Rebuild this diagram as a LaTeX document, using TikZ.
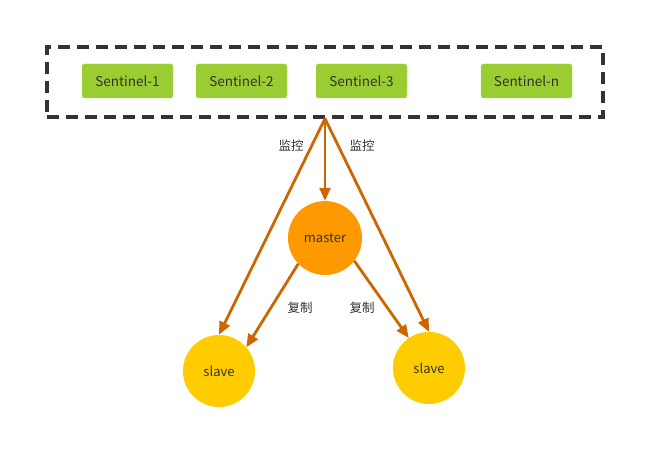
\documentclass[tikz,border=0pt]{standalone}
\usepackage{fontspec}
\setmainfont{Noto Sans CJK SC}
\usetikzlibrary{arrows.meta}
\definecolor{sgreen}{HTML}{9ACD32}
\definecolor{morange}{HTML}{FF9900}
\definecolor{syellow}{HTML}{FFCC00}
\definecolor{arr}{HTML}{CC6600}
\definecolor{txt}{HTML}{333333}
\tikzset{
  sentbox/.style={draw=sgreen!85!white, fill=sgreen, rounded corners=2.5pt, minimum width=91pt, minimum height=34pt, inner sep=0pt, text=txt, font=\fontsize{13.5}{15}\selectfont},
  frame/.style={draw=txt, line width=3.2pt, dash pattern=on 12pt off 7pt, minimum width=556pt, minimum height=70pt, inner sep=0pt},
  masternode/.style={circle, fill=morange, minimum size=74pt, inner sep=0pt, text=txt, font=\fontsize{13}{15}\selectfont},
  slavenode/.style={circle, fill=syellow, minimum size=72pt, inner sep=0pt, text=txt, font=\fontsize{13}{15}\selectfont},
  link/.style={draw=arr, line width=2.8pt, -{Triangle[length=13pt,width=11pt]}},
  lbl/.style={text=txt, font=\fontsize{12.5}{14}\selectfont, inner sep=0pt}
}
\begin{document}
\begin{tikzpicture}[x=1pt,y=-1pt]
\useasboundingbox (0,0) rectangle (665,468);
\node[frame] (box) at (325,82) {};
\node[sentbox] (s1) at (127.5,81) {Sentinel-1};
\node[sentbox] (s2) at (241.5,81) {Sentinel-2};
\node[sentbox] (s3) at (361.5,81) {Sentinel-3};
\node[sentbox] (sn) at (526.5,81) {Sentinel-n};
\node[masternode] (m) at (325,238) {master};
\node[slavenode] (sl) at (219,371) {slave};
\node[slavenode] (sr) at (429,368) {slave};
\draw[link] (box.south) -- (m.north);
\draw[link] (box.south) -- (sl.north);
\draw[link] (box.south) -- (sr.north);
\draw[link] (m.224) -- (sl.41);
\draw[link] (m.322) -- (sr.124);
\node[lbl] (l1) at (291,146) {监控};
\node[lbl] (l2) at (362,146) {监控};
\node[lbl] (l3) at (300,308) {复制};
\node[lbl] (l4) at (362,308) {复制};
\end{tikzpicture}
\end{document}
